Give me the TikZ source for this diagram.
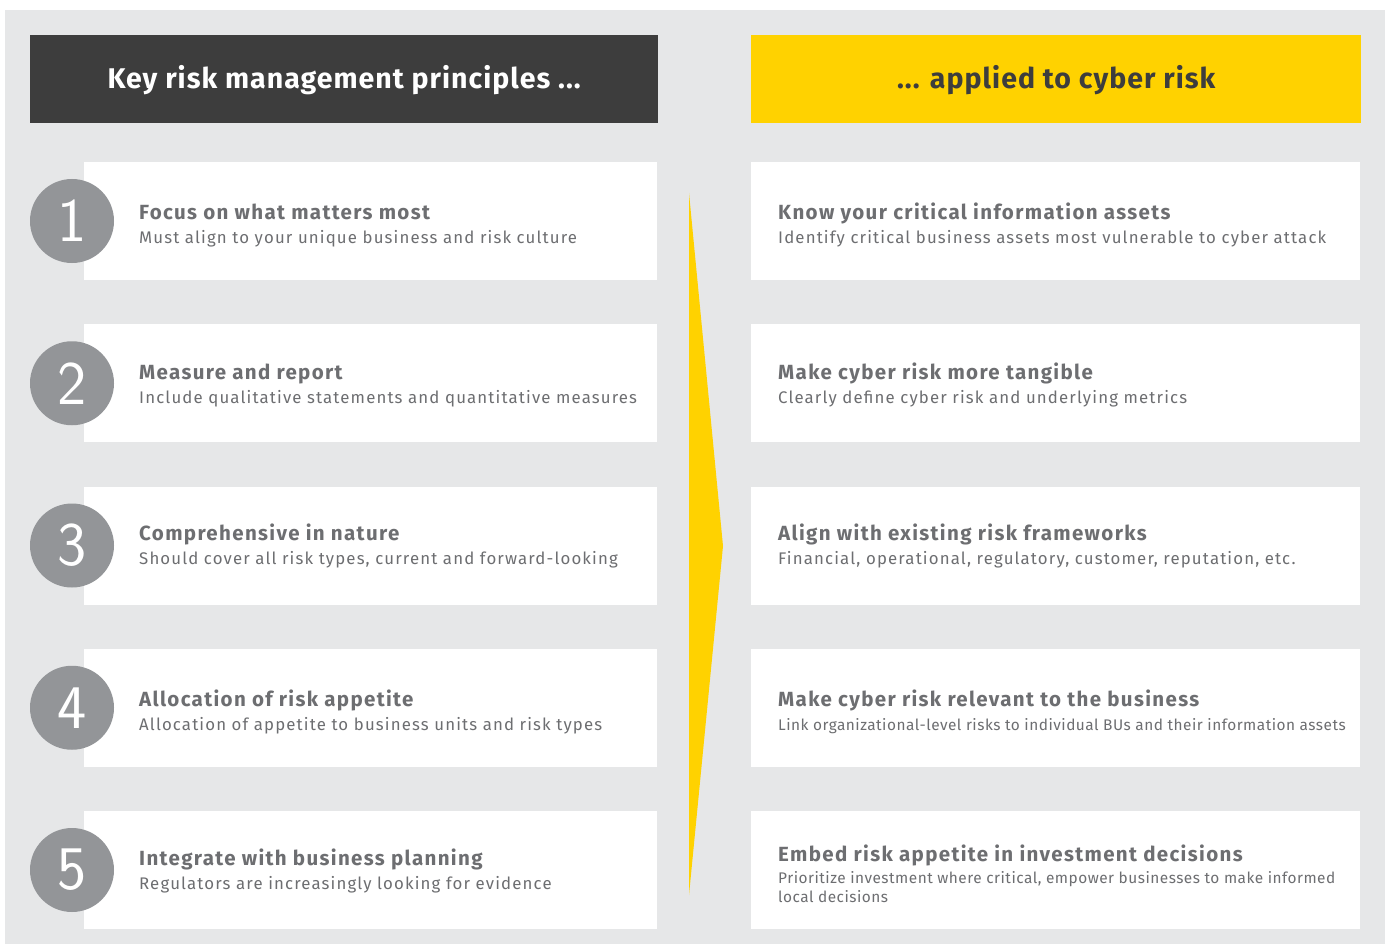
\documentclass[tikz,border=0pt]{standalone}
\usepackage{fontspec}
\setmainfont{Fira Sans}
\setsansfont{Fira Sans}
\newfontfamily\numfont{Latin Modern Sans}
\begin{document}
\definecolor{pagegray}{HTML}{E6E7E8}
\definecolor{darkhead}{HTML}{3D3D3D}
\definecolor{eyyellow}{HTML}{FFD200}
\definecolor{circgray}{HTML}{939598}
\definecolor{txtgray}{HTML}{6D6E71}
\begin{tikzpicture}[x=1pt,y=-1pt,
  panel/.style={fill=white,draw=none,inner sep=0pt,minimum width=573pt,minimum height=118pt,anchor=north west},
  rpanel/.style={panel,minimum width=609pt},
  numcirc/.style={circle,fill=circgray,draw=none,minimum size=84pt,inner sep=0pt,text=white,font=\numfont\fontsize{62}{62}\selectfont},
  headtxt/.style={font=\fontsize{28.5}{32}\selectfont\bfseries\addfontfeatures{LetterSpace=3.6}},
  ttl/.style={anchor=base west,inner sep=0pt,text=txtgray,font=\fontsize{20.5}{24}\selectfont\bfseries\addfontfeatures{LetterSpace=6.6}},
  sub/.style={anchor=base west,inner sep=0pt,text=txtgray,font=\fontsize{16.8}{20}\selectfont\addfontfeatures{LetterSpace=6.8}},
  smallsub/.style={anchor=base west,inner sep=0pt,text=txtgray,align=left,font=\fontsize{15.4}{19}\selectfont\addfontfeatures{LetterSpace=3.2}}
]
\useasboundingbox (0,0) rectangle (1389,944);
% page background
\fill[pagegray] (5,10) rectangle (1385,944);

% column headers
\node[fill=darkhead,inner sep=0pt,minimum width=628pt,minimum height=88pt,anchor=north west] (hl) at (30,35) {};
\node[headtxt,text=white] (hlt) at ([yshift=-0.5pt]hl.center) {Key risk management principles ...};
\node[fill=eyyellow,inner sep=0pt,minimum width=610pt,minimum height=88pt,anchor=north west] (hr) at (751,35) {};
\node[headtxt,text=darkhead] (hrt) at ([yshift=-0.5pt]hr.center) {... applied to cyber risk};

% yellow arrow between the columns
\fill[eyyellow] (689,193) -- (723,546) -- (689,895) -- cycle;

% left column: principles
\foreach \i/\ty/\sy/\t/\s in {
  1/219.5/243.5/Focus on what matters most/Must align to your unique business and risk culture,
  2/379.5/403.5/Measure and report/Include qualitative statements and quantitative measures,
  3/540.5/564.5/Comprehensive in nature/{Should cover all risk types, current and forward-looking},
  4/706.5/730.5/Allocation of risk appetite/Allocation of appetite to business units and risk types,
  5/865.5/889.5/Integrate with business planning/Regulators are increasingly looking for evidence}{
  \pgfmathsetmacro{\ytop}{162+162.25*(\i-1)}
  \node[panel] (lb\i) at (84,\ytop) {};
  \node[numcirc] (c\i) at (72,\ytop+59) {\i};
  \node[ttl] (lt\i) at (139,\ty) {\t};
  \node[sub] (ls\i) at (139,\sy) {\s};
}

% right column: applied to cyber risk
\foreach \i/\ty/\sy/\t/\s in {
  1/219.5/243.5/Know your critical information assets/Identify critical business assets most vulnerable to cyber attack,
  2/379.5/403.5/Make cyber risk more tangible/Clearly define cyber risk and underlying metrics,
  3/540.5/564.5/Align with existing risk frameworks/{Financial, operational, regulatory, customer, reputation, etc.}}{
  \pgfmathsetmacro{\ytop}{162+162.25*(\i-1)}
  \node[rpanel] (rb\i) at (751,\ytop) {};
  \node[ttl] (rt\i) at (778,\ty) {\t};
  \node[sub] (rs\i) at (778,\sy) {\s};
}
\node[rpanel] (rb4) at (751,649) {};
\node[ttl] (rt4) at (778,706.5) {Make cyber risk relevant to the business};
\node[smallsub] (rs4) at (778,730.5) {Link organizational-level risks to individual BUs and their information assets};
\node[rpanel] (rb5) at (751,811) {};
\node[ttl] (rt5) at (778,861.5) {Embed risk appetite in investment decisions};
\node[smallsub] (rs5) at (778,883) {Prioritize investment where critical, empower businesses to make informed};
\node[smallsub] (rs5b) at (778,902) {local decisions};
\end{tikzpicture}
\end{document}
